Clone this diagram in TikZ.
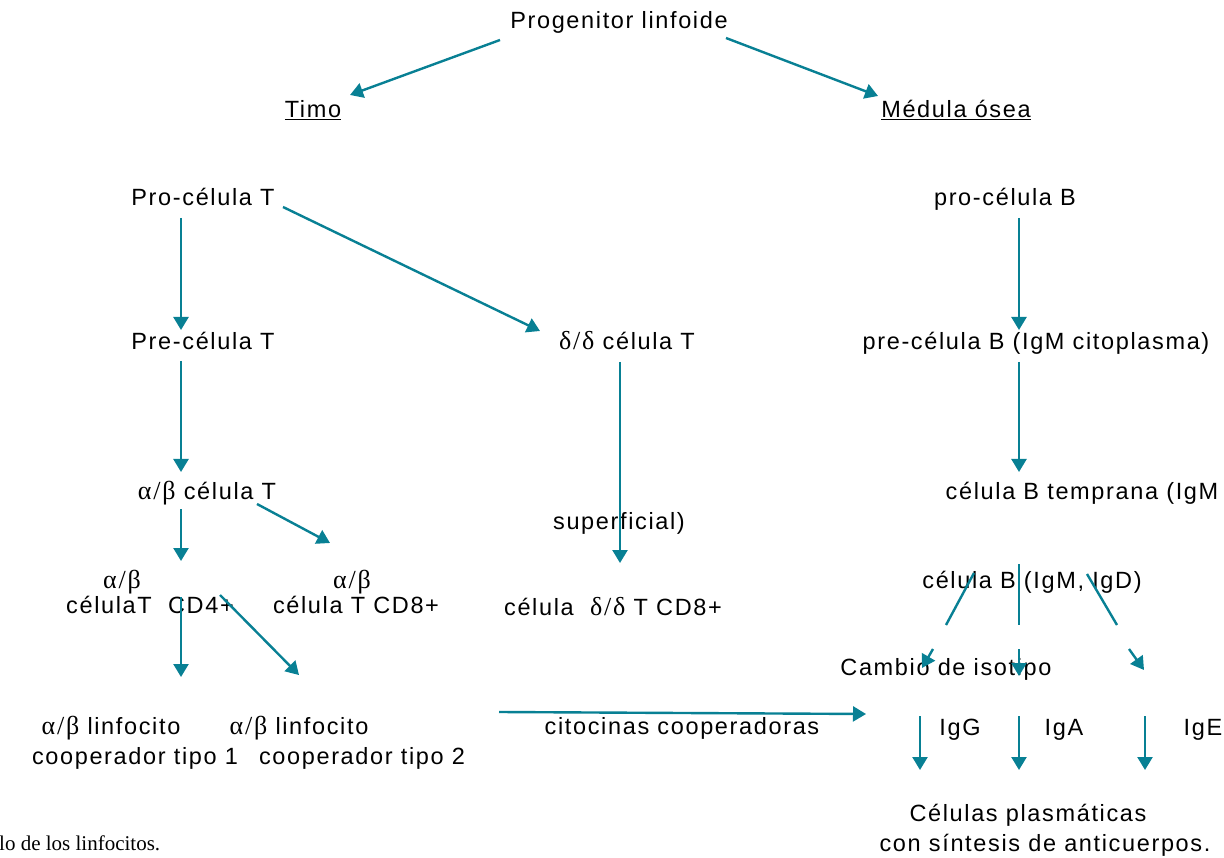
\documentclass[tikz,border=0pt]{standalone}
\usepackage{fontspec}
\setmainfont{Liberation Sans}[LetterSpace=7]
\newfontfamily\grk{Liberation Serif}[LetterSpace=7]
\newfontfamily\capfont{Liberation Serif}
\usetikzlibrary{arrows.meta}
\definecolor{teal}{RGB}{8,128,148}
\newcommand{\ab}{{\fontsize{26}{30}\selectfont\grk α/β}}
\newcommand{\dd}{{\fontsize{26}{30}\selectfont\grk δ/δ}}
\tikzset{
  lbl/.style={anchor=base, inner sep=0pt, font=\fontsize{23.5}{28}\selectfont},
  flow/.style={draw=teal, line width=2.4pt, -{Triangle[length=13pt,width=15pt]}},
  seg/.style={draw=teal, line width=2.4pt},
}
\begin{document}
\begin{tikzpicture}[x=1pt,y=-1pt]
\useasboundingbox (0,0) rectangle (1224,858);
\fill[white] (0,0) rectangle (1224,858);

% labels
\node[lbl] (prog) at (619,29) {Progenitor linfoide};
\node[lbl] (timo) at (313,118) {\underline{Timo}};
\node[lbl] (medula) at (956,118) {\underline{Médula ósea}};
\node[lbl] (proT) at (203,206) {Pro-célula T};
\node[lbl] (proB) at (1005,206) {pro-célula B};
\node[lbl] (preT) at (203,350) {Pre-célula T};
\node[lbl] (ddT) at (627,350) {\dd{} célula T};
\node[lbl] (preB) at (1036,350) {pre-célula B (IgM citoplasma)};
\node[lbl] (abT) at (207,499) {\ab{} célula T};
\node[lbl] (tempB) at (1082,499) {célula B temprana (IgM};
\node[lbl] (superf) at (619,529) {superficial)};
\node[lbl] (ab4) at (122,588) {\ab};
\node[lbl] (cd4) at (150,613) {célulaT \ CD4+};
\node[lbl] (ab8) at (352,588) {\ab};
\node[lbl] (cd8) at (356,613) {célula T CD8+};
\node[lbl] (dd8) at (613,615) {célula \ \dd{} T CD8+};
\node[lbl] (cellBD) at (1032,588) {célula B (IgM, IgD)};
\node[lbl] (cambio) at (946,675) {Cambio de isotipo};
\node[lbl] (th1a) at (111,734) {\ab{} linfocito};
\node[lbl] (th1b) at (135,764) {cooperador tipo 1};
\node[lbl] (th2a) at (299,734) {\ab{} linfocito};
\node[lbl] (th2b) at (362,764) {cooperador tipo 2};
\node[lbl] (cito) at (682,734) {citocinas cooperadoras};
\node[lbl] (igg) at (960,735) {IgG};
\node[lbl] (iga) at (1064,735) {IgA};
\node[lbl] (ige) at (1203,735) {IgE};
\node[lbl] (plas1) at (1028,821) {Células plasmáticas};
\node[lbl] (plas2) at (1045,851) {con síntesis de anticuerpos.};
\node[anchor=base west, inner sep=0pt, font=\fontsize{21}{24}\capfont] (cap) at (-1,850) {lo de los linfocitos.};

% connector end points
\coordinate (p1) at (500,40);   \coordinate (p1e) at (350,95);
\coordinate (p2) at (726,38);   \coordinate (p2e) at (878,96);
\coordinate (t1) at (181,218);  \coordinate (t1e) at (181,330);
\coordinate (t2) at (283,207);  \coordinate (t2e) at (540,331);
\coordinate (t3) at (181,361);  \coordinate (t3e) at (181,472);
\coordinate (d1) at (620,362);  \coordinate (d1e) at (620,563);
\coordinate (b1) at (1019,218); \coordinate (b1e) at (1019,330);
\coordinate (b2) at (1019,362); \coordinate (b2e) at (1019,472);
\coordinate (t4) at (181,509);  \coordinate (t4e) at (181,561);
\coordinate (t5) at (257,504);  \coordinate (t5e) at (330,543);
\coordinate (t6) at (181,597);  \coordinate (t6e) at (181,677);
\coordinate (t7) at (220,595);  \coordinate (t7e) at (299,675);
\coordinate (c1) at (499,712);  \coordinate (c1e) at (866,714);
\coordinate (g1) at (974,573);  \coordinate (g1m) at (946,625);
\coordinate (g1n) at (933,649); \coordinate (g1e) at (922,668);
\coordinate (g2) at (1019,564); \coordinate (g2m) at (1019,625);
\coordinate (g2n) at (1019,649);\coordinate (g2e) at (1019,676);
\coordinate (g3) at (1087,574); \coordinate (g3m) at (1117,625);
\coordinate (g3n) at (1129,649);\coordinate (g3e) at (1144,670);
\coordinate (i1) at (920,716);  \coordinate (i1e) at (920,770);
\coordinate (i2) at (1019,716); \coordinate (i2e) at (1019,770);
\coordinate (i3) at (1145,716); \coordinate (i3e) at (1145,770);

% connectors
\draw[flow] (p1) -- (p1e);
\draw[flow] (p2) -- (p2e);
\draw[flow] (t1) -- (t1e);
\draw[flow] (t2) -- (t2e);
\draw[flow] (t3) -- (t3e);
\draw[flow] (d1) -- (d1e);
\draw[flow] (b1) -- (b1e);
\draw[flow] (b2) -- (b2e);
\draw[flow] (t4) -- (t4e);
\draw[flow] (t5) -- (t5e);
\draw[flow] (t6) -- (t6e);
\draw[flow] (t7) -- (t7e);
\draw[flow] (c1) -- (c1e);
\draw[seg] (g1) -- (g1m);
\draw[flow] (g1n) -- (g1e);
\draw[seg] (g2) -- (g2m);
\draw[flow] (g2n) -- (g2e);
\draw[seg] (g3) -- (g3m);
\draw[flow] (g3n) -- (g3e);
\draw[flow] (i1) -- (i1e);
\draw[flow] (i2) -- (i2e);
\draw[flow] (i3) -- (i3e);
\end{tikzpicture}
\end{document}
